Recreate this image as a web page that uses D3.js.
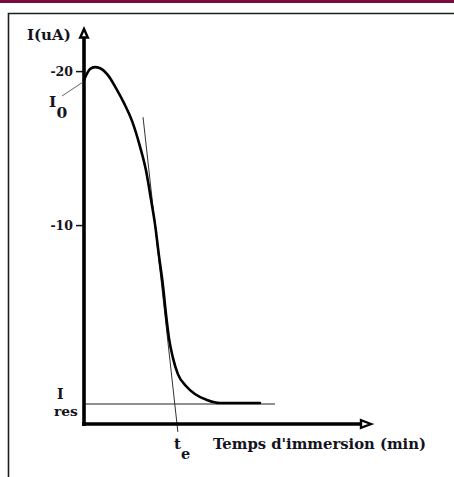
<!DOCTYPE html>
<html>
<head>
<meta charset="utf-8">
<script src="https://cdn.jsdelivr.net/npm/d3@7"></script>
<style>
  html, body { margin: 0; padding: 0; background: #fff; }
  svg { display: block; }
  .lbl { font-family: "DejaVu Serif", serif; font-weight: bold; fill: #14141e; }
</style>
</head>
<body>
<div id="chart"></div>
<script>
// Immersion time (arbitrary units) and current I (uA) along the decay curve
const time    = [0.00, 0.21, 0.38, 0.56, 0.83, 1.11, 1.39, 1.67, 1.94, 2.15, 2.33, 2.47, 2.60, 2.74, 2.85, 2.95, 3.09, 3.26, 3.54, 3.85, 4.27, 4.72, 6.11];
const current = [-19.42, -20.13, -20.26, -20.19, -19.74, -18.90, -17.92, -16.75, -15.13, -13.57, -11.62, -10.00, -8.05, -6.10, -4.16, -2.66, -1.36, -0.32, 0.45, 0.97, 1.36, 1.56, 1.56];

// Y tick values
const yTicks = [-20, -10];

// Residual current level and its guide line extent
const iRes = 1.62;
const iResEnd = 6.63;

// Tangent at the inflection point: two end points (time, current)
const tangentT = [2.05, 3.26];
const tangentI = [-17.01, 3.44];

// Axis extents
const xDomain = [0, 10];
const yDomain = [-22.8, 2.92];

const W = 454, H = 477;
const svg = d3.select("#chart").append("svg").attr("width", W).attr("height", H);

// Header band and frame
svg.append("rect").attr("x", 0).attr("y", 0).attr("width", W).attr("height", 3).attr("fill", "#7a0b3e");
svg.append("path").attr("d", `M8.5,${H} V13.5 H${W}`).attr("fill", "none").attr("stroke", "#1e1e1e").attr("stroke-width", 1.6);

const x = d3.scaleLinear().domain(xDomain).range([84, 372]);
const y = d3.scaleLinear().domain(yDomain).range([28, 424]);

const x0 = x(xDomain[0]), y0 = y(yDomain[1]);

// Residual current guide
svg.append("line")
  .attr("x1", x0).attr("x2", x(iResEnd))
  .attr("y1", y(iRes)).attr("y2", y(iRes))
  .attr("stroke", "#6b6b6b").attr("stroke-width", 1.4);

// Tangent line
svg.append("line")
  .attr("x1", x(tangentT[0])).attr("y1", y(tangentI[0]))
  .attr("x2", x(tangentT[1])).attr("y2", y(tangentI[1]))
  .attr("stroke", "#333").attr("stroke-width", 1);

// Decay curve
const pts = time.map((t, i) => [t, current[i]]);
svg.append("path")
  .datum(pts)
  .attr("d", d3.line().x(d => x(d[0])).y(d => y(d[1])).curve(d3.curveMonotoneX))
  .attr("fill", "none").attr("stroke", "#000").attr("stroke-width", 2.6)
  .attr("stroke-linecap", "round").attr("stroke-linejoin", "round");

// Y axis ticks
const yAxis = d3.axisLeft(y).tickValues(yTicks).tickSize(7).tickPadding(3).tickFormat(d => String(d));
const gy = svg.append("g").attr("transform", `translate(${x0 - 1},0)`).call(yAxis);
gy.select(".domain").remove();
gy.selectAll(".tick line").attr("stroke", "#111").attr("stroke-width", 1.5);
gy.selectAll(".tick text").attr("class", "lbl").attr("font-size", 12.5).attr("fill", "#14141e");

// Axis lines with hollow arrow heads
const axisTopY = y(yDomain[0]);
svg.append("line").attr("x1", x0).attr("x2", x0).attr("y1", axisTopY + 9).attr("y2", y0 + 2)
  .attr("stroke", "#000").attr("stroke-width", 3.6);
svg.append("line").attr("x1", x0 - 2).attr("x2", x(xDomain[1]) - 11).attr("y1", y0).attr("y2", y0)
  .attr("stroke", "#000").attr("stroke-width", 3.4);

svg.append("path")
  .attr("d", `M${x0},${axisTopY + 1} L${x0 + 3.8},${axisTopY + 9.5} L${x0 - 3.8},${axisTopY + 9.5} Z`)
  .attr("fill", "#fff").attr("stroke", "#000").attr("stroke-width", 2.4).attr("stroke-linejoin", "miter");
const xe = x(xDomain[1]);
svg.append("path")
  .attr("d", `M${xe - 1},${y0} L${xe - 11},${y0 - 3.8} L${xe - 11},${y0 + 3.8} Z`)
  .attr("fill", "#fff").attr("stroke", "#000").attr("stroke-width", 2.4).attr("stroke-linejoin", "miter");

// Axis titles
svg.append("text").attr("class", "lbl").attr("x", 27).attr("y", 40).attr("font-size", 15).text("I(uA)");
svg.append("text").attr("class", "lbl").attr("x", 213).attr("y", 449).attr("font-size", 14.8).text("Temps d'immersion (min)");

// I0 marker and leader
svg.append("line").attr("x1", 62).attr("y1", 96).attr("x2", x0 - 1).attr("y2", y(current[0]) + 2)
  .attr("stroke", "#555").attr("stroke-width", 0.9);
svg.append("text").attr("class", "lbl").attr("x", 49).attr("y", 107).attr("font-size", 15.5).text("I");
svg.append("text").attr("class", "lbl").attr("x", 56.5).attr("y", 118).attr("font-size", 15.5).text("0");

// Residual current label
svg.append("text").attr("class", "lbl").attr("x", 57).attr("y", 399).attr("font-size", 14).text("I");
svg.append("text").attr("class", "lbl").attr("x", 54).attr("y", 416).attr("font-size", 13.8).text("res");

// Equivalence time label
svg.append("text").attr("class", "lbl").attr("x", 174).attr("y", 449).attr("font-size", 15).text("t");
svg.append("text").attr("class", "lbl").attr("x", 181).attr("y", 459).attr("font-size", 14.5).text("e");
</script>
</body>
</html>
